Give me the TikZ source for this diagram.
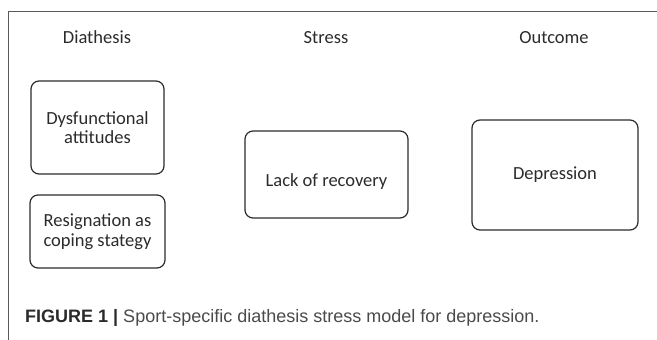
\documentclass[tikz,border=0pt]{standalone}
\usepackage{fontspec}
\setmainfont{Carlito}
\newfontfamily\capfont{Liberation Sans}
\usetikzlibrary{positioning}
\definecolor{ink}{HTML}{2B2B2B}
\definecolor{capgray}{HTML}{4A4A4A}
\definecolor{framegray}{HTML}{5A5A5A}

\begin{document}
\begin{tikzpicture}[x=1pt,y=-1pt,
        box/.style={draw=ink,line width=1.2pt,rounded corners=8pt,align=center,text=ink,
                    font=\fontsize{18.5}{19.5}\selectfont},
        head/.style={anchor=base,text=ink,font=\fontsize{18.5}{19.5}\selectfont}]
    \useasboundingbox (0,0) rectangle (657,340);
    % frame
    \draw[framegray,line width=0.9pt] (8,340) -- (8,11) -- (657,11);
    % column heads
    \node[head] (diath) at (97,43) {Diathesis};
    \node[head] (stress) at (326,43) {Stress};
    \node[head] (outc) at (554,43) {Outcome};
    % boxes
    \node[box,minimum width=133pt,minimum height=93pt] (dys) at (97.5,127.5) {Dysfunctional\\attitudes};
    \node[box,minimum width=135pt,minimum height=73pt] (resig) at (97.5,231.5) {Resignation as\\coping stategy};
    \node[box,minimum width=163pt,minimum height=87pt] (lack) at (326.5,174.5) {};
    \node[text=ink,font=\fontsize{18.5}{19.5}\selectfont] (lacktxt) at ([yshift=-7pt]lack.center) {Lack of recovery};
    \node[box,minimum width=166pt,minimum height=110pt] (dep) at (555,175) {Depression};
    % caption
    \node[anchor=base west,inner sep=0pt,text=capgray,font=\capfont\fontsize{18}{20}\selectfont] (cap) at (25,322)
        {\textcolor{ink}{\bfseries FIGURE 1 |} Sport-specific diathesis stress model for depression.};
\end{tikzpicture}
\end{document}
